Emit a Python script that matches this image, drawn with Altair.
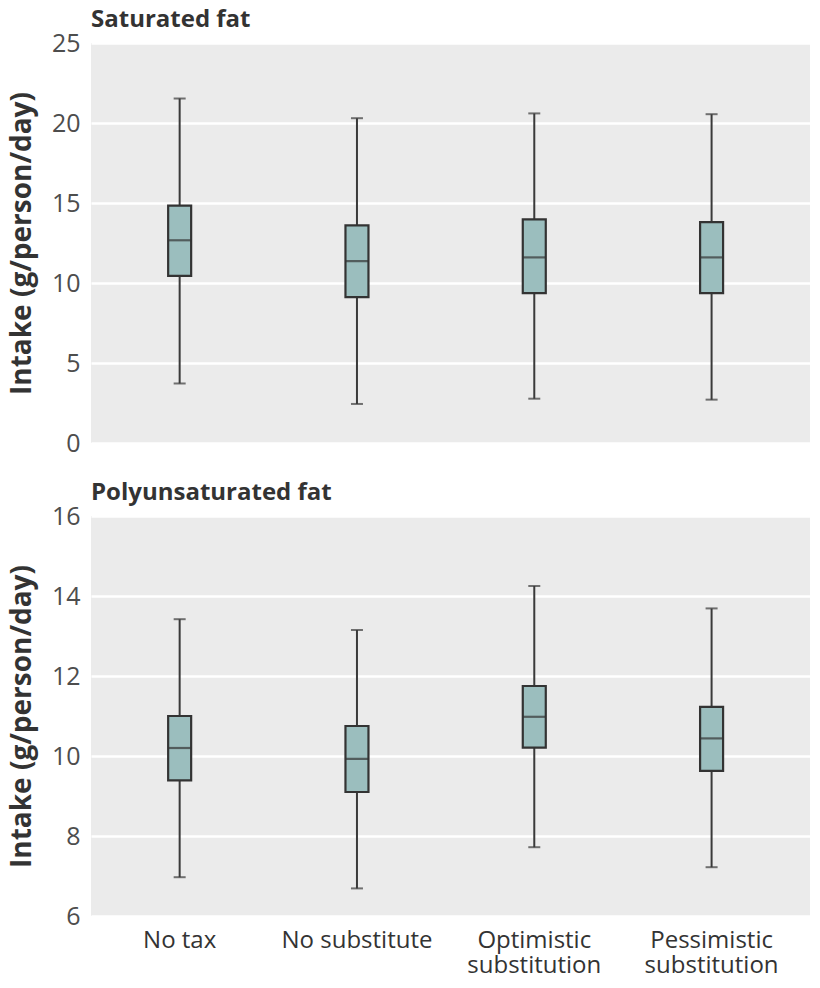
import altair as alt
import pandas as pd

categories = ["No tax", "No substitute", "Optimistic\nsubstitution", "Pessimistic\nsubstitution"]

sat_low = [3.72, 2.44, 2.77, 2.71]
sat_q1 = [10.44, 9.12, 9.37, 9.37]
sat_med = [12.67, 11.37, 11.60, 11.60]
sat_q3 = [14.84, 13.60, 13.98, 13.81]
sat_high = [21.53, 20.30, 20.60, 20.55]

poly_low = [6.97, 6.69, 7.72, 7.22]
poly_q1 = [9.39, 9.10, 10.21, 9.63]
poly_med = [10.20, 9.93, 10.98, 10.44]
poly_q3 = [11.00, 10.75, 11.75, 11.23]
poly_high = [13.42, 13.15, 14.25, 13.69]

sat_ticks = [0, 5, 10, 15, 20, 25]
poly_ticks = [6, 8, 10, 12, 14, 16]

FONT = "Open Sans"
W, H = 719, 400


def panel(title, low, q1, med, q3, high, ticks, show_x):
    df = pd.DataFrame({"cat": categories, "low": low, "q1": q1, "med": med, "q3": q3, "high": high})
    if show_x:
        xaxis = alt.Axis(title=None, domain=False, ticks=False, labelAngle=0,
                         labelFontSize=24, labelColor="#333333", labelFont=FONT,
                         labelPadding=12, labelLineHeight=25,
                         labelExpr="split(datum.label, '\\n')")
    else:
        xaxis = alt.Axis(title=None, domain=False, ticks=False, labels=False)
    x = alt.X("cat:N", sort=categories, axis=xaxis,
              scale=alt.Scale(paddingInner=0, paddingOuter=0.0275, align=0))
    yscale = alt.Scale(domain=[ticks[0], ticks[-1]], nice=False, zero=False)
    yaxis = alt.Axis(values=ticks, grid=True, gridColor="white", gridWidth=2.5,
                     domain=False, ticks=False, labelFontSize=25, labelColor="#4d4d4d",
                     labelFont=FONT, labelPadding=11,
                     title="Intake (g/person/day)", titleFontSize=28, titleFont=FONT,
                     titleFontWeight="bold", titleColor="#333333", titlePadding=15)
    base = alt.Chart(df)
    whisk = base.mark_rule(color="#3a3a3a", strokeWidth=2).encode(
        x=x, y=alt.Y("low:Q", scale=yscale, axis=yaxis), y2="high:Q")
    box = base.mark_bar(size=23, fill="#9bbebe", stroke="#333333", strokeWidth=2.2).encode(
        x=x, y=alt.Y("q1:Q", scale=yscale), y2="q3:Q")
    median = base.mark_tick(size=23, thickness=2.2, color="#333333").encode(
        x=x, y=alt.Y("med:Q", scale=yscale))
    cap_hi = base.mark_tick(size=12, thickness=2, color="#3a3a3a").encode(
        x=x, y=alt.Y("high:Q", scale=yscale))
    cap_lo = base.mark_tick(size=12, thickness=2, color="#3a3a3a").encode(
        x=x, y=alt.Y("low:Q", scale=yscale))
    return alt.layer(whisk, box, median, cap_hi, cap_lo).properties(
        width=W, height=H,
        title=alt.Title(title, anchor="start", frame="group", fontSize=24, font=FONT,
                        fontWeight="bold", color="#333333", offset=-1),
    )


top = panel("Saturated fat", sat_low, sat_q1, sat_med, sat_q3, sat_high, sat_ticks, False)
bottom = panel("Polyunsaturated fat", poly_low, poly_q1, poly_med, poly_q3, poly_high, poly_ticks, True)

chart = alt.vconcat(top, bottom, spacing=25).properties(
    padding={"left": 0, "top": 0, "right": 0, "bottom": 0},
    background="white",
).configure_view(fill="#ebebeb", strokeWidth=0)

chart.save("out.html", embed_options={"renderer": "svg", "actions": False})
